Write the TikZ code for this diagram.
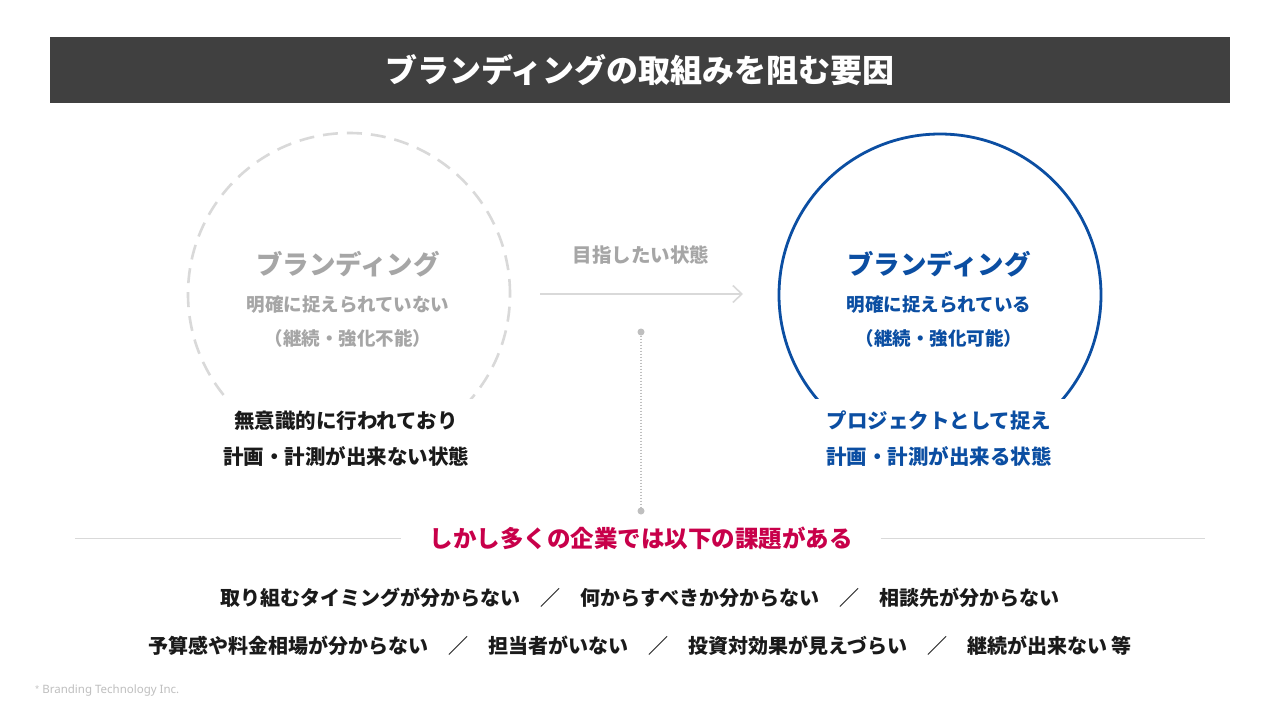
\documentclass[tikz,border=0pt]{standalone}
\usepackage{fontspec}
\setmainfont{Noto Sans CJK JP}
\newfontfamily\latinfont{Noto Sans}
\usepackage{xcolor}
\usetikzlibrary{arrows.meta, positioning}

\definecolor{titlegray}{HTML}{404040}
\definecolor{palegray}{HTML}{D9D9D9}
\definecolor{midgray}{HTML}{A6A6A6}
\definecolor{dotgray}{HTML}{BFBFBF}
\definecolor{brandblue}{HTML}{0B4EA2}
\definecolor{crimson}{HTML}{C8004A}
\definecolor{inkblack}{HTML}{1A1A1A}

\newcommand{\fs}[1]{\fontsize{#1}{#1}\selectfont}

\begin{document}
\begin{tikzpicture}[
    x=1pt, y=-1pt,
    node distance=16pt,
    heading/.style={font=\fs{26.5}\bfseries, inner sep=0pt},
    subline/.style={font=\fs{18.5}\bfseries, inner sep=0pt},
    caption/.style={font=\fs{20.5}\bfseries, inner sep=0pt},
    issue/.style={font=\fs{20}\bfseries, text=inkblack, inner sep=0pt},
    dot/.style={circle, fill=dotgray, inner sep=0pt, minimum size=7pt},
    arrow/.style={-{Straight Barb[length=9pt, width=17pt, line width=1.6pt]}, line width=1.6pt, draw=palegray}
]
\useasboundingbox[fill=white] (0,0) rectangle (1280,720);

% Title bar
\node[fill=titlegray, minimum width=1180pt, minimum height=66pt, inner sep=0pt,
      font=\fs{32}\bfseries, text=white] (title) at (640,70) {ブランディングの取組みを阻む要因};

% Left - current state
\begin{scope}
\clip (0,110) rectangle (1280,398);
\node[circle, draw=palegray, line width=2.6pt, dash pattern=on 15pt off 9pt,
      minimum size=322pt] (now) at (349,294) {};
\node[circle, draw=brandblue, line width=2.8pt, minimum size=322pt] (goal) at (940,295) {};
\end{scope}

\node[heading, text=midgray] (nowhead) at (348,264) {ブランディング};
\node[subline, text=midgray, below=18pt of nowhead] (nowsub) {明確に捉えられていない};
\node[subline, text=midgray, below=16pt of nowsub] (nowpar) {（継続・強化不能）};

\node[caption, text=inkblack] (nowcap1) at (346,421) {無意識的に行われており};
\node[caption, text=inkblack, below=15pt of nowcap1] (nowcap2) {計画・計測が出来ない状態};

% Middle - arrow
\node[font=\fs{19.5}\bfseries, text=midgray, inner sep=0pt] (aim) at (641,255) {目指したい状態};
\coordinate (arrS) at (540,294);
\coordinate (arrE) at (743,294);
\draw[arrow] (arrS) -- (arrE);

\node[dot] (dtop) at (641,332) {};
\node[dot] (dbot) at (641,511) {};
\draw[dotgray, line width=1.3pt, dash pattern=on 1.5pt off 1.5pt] (dtop) -- (dbot);

% Right - target state
\node[heading, text=brandblue] (goalhead) at (939,264) {ブランディング};
\node[subline, text=brandblue, below=18pt of goalhead] (goalsub) {明確に捉えられている};
\node[subline, text=brandblue, below=16pt of goalsub] (goalpar) {（継続・強化可能）};

\node[caption, text=brandblue] (goalcap1) at (939,421) {プロジェクトとして捉え};
\node[caption, text=brandblue, below=15pt of goalcap1] (goalcap2) {計画・計測が出来る状態};

% Issues
\node[font=\fs{23.5}\bfseries, text=crimson, inner sep=0pt] (but) at (641,538) {しかし多くの企業では以下の課題がある};
\coordinate (ruleL) at (75,538);
\coordinate (ruleR) at (1205,538);
\draw[palegray, line width=1pt] (ruleL) -- ([xshift=-28pt]but.west);
\draw[palegray, line width=1pt] ([xshift=28pt]but.east) -- (ruleR);

\node[issue] (row1) at (640,598) {取り組むタイミングが分からない　／　何からすべきか分からない　／　相談先が分からない};
\node[issue] (row2) at (640,646) {予算感や料金相場が分からない　／　担当者がいない　／　投資対効果が見えづらい　／　継続が出来ない 等};

% Footer
\node[anchor=west, font=\latinfont\fs{11.5}\bfseries, text=dotgray, inner sep=0pt] (credit) at (35,691) {\raisebox{2.5pt}{\fs{7.5}*} Branding Technology Inc.};

\end{tikzpicture}
\end{document}
